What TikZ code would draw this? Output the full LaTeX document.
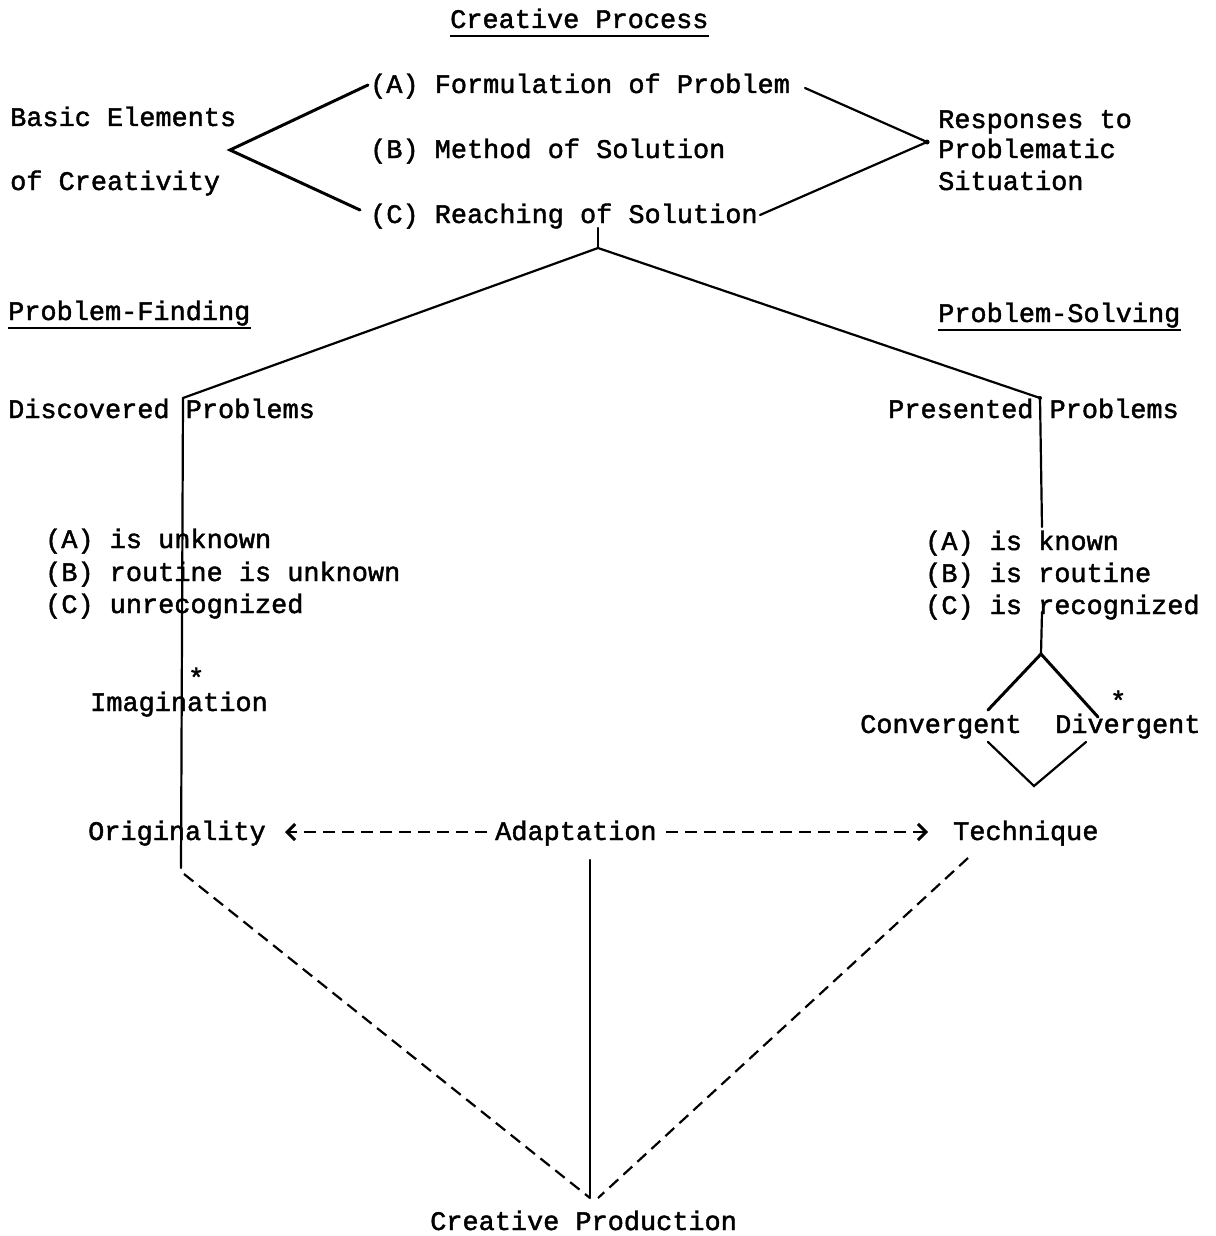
\documentclass[tikz,border=0pt]{standalone}
\usepackage{fontspec}
\newfontfamily\tw{Liberation Mono}[FakeBold=1.6]
\usetikzlibrary{arrows.meta}
\begin{document}
\begin{tikzpicture}[x=1pt,y=-1pt,
  lbl/.style={inner sep=0pt,anchor=base west,font=\tw\fontsize{26.9}{30}\selectfont},
  ln/.style={line width=2.2pt,line cap=round},
  thk/.style={line width=3pt,line cap=round},
  dsh/.style={line width=2.2pt,dash pattern=on 12pt off 7pt},
  ul/.style={line width=1.6pt},
  tip/.style={-{Straight Barb[length=8pt,width=16pt,line width=3pt]}}]
\useasboundingbox[fill=white] (0,0) rectangle (1215,1236);
% texts
\node[lbl] (cp) at (450,28) {Creative Process};
\node[lbl] (fa) at (370,93) {(A) Formulation of Problem};
\node[lbl] (fb) at (370,158) {(B) Method of Solution};
\node[lbl] (fc) at (370,223) {(C) Reaching of Solution};
\node[lbl] (be1) at (10,126) {Basic Elements};
\node[lbl] (be2) at (10,190) {of Creativity};
\node[lbl] (rs1) at (938,128) {Responses to};
\node[lbl] (rs2) at (938,158) {Problematic};
\node[lbl] (rs3) at (938,190) {Situation};
\node[lbl] (pf) at (8,320) {Problem-Finding};
\node[lbl] (ps) at (938,322) {Problem-Solving};
\node[lbl] (dp) at (8,418) {Discovered Problems};
\node[lbl] (pp) at (888,418) {Presented Problems};
\node[lbl] (la) at (45,548) {(A) is unknown};
\node[lbl] (lb) at (45,581) {(B) routine is unknown};
\node[lbl] (lc) at (45,613) {(C) unrecognized};
\node[lbl] (ra) at (925,550) {(A) is known};
\node[lbl] (rb) at (925,582) {(B) is routine};
\node[lbl] (rc) at (925,614) {(C) is recognized};
\node[lbl] (im) at (90,711) {Imagination};
\node[lbl] (ims) at (188,687) {*};
\node[lbl] (cv) at (860,733) {Convergent};
\node[lbl] (dv) at (1055,733) {Divergent};
\node[lbl] (dvs) at (1110,710) {*};
\node[lbl] (or) at (88,840) {Originality};
\node[lbl] (ad) at (495,840) {Adaptation};
\node[lbl] (te) at (953,840) {Technique};
\node[lbl] (cpr) at (430,1230) {Creative Production};
% underlines
\draw[ul] ([yshift=-8pt]cp.base west) -- ([yshift=-8pt]cp.base east);
\draw[ul] ([yshift=-8pt]pf.base west) -- ([yshift=-8pt]pf.base east);
\draw[ul] ([yshift=-8pt]ps.base west) -- ([yshift=-8pt]ps.base east);
% junction coordinates
\coordinate (lj) at (230,150);
\coordinate (laE) at (368,85);
\coordinate (lcE) at (360,210);
\coordinate (rj) at (927,142);
\coordinate (raE) at (805,88);
\coordinate (rcE) at (760,215);
\coordinate (c0) at (598,228);
\coordinate (c1) at (598,248);
\coordinate (dj) at (183,398);
\coordinate (dbot) at (181,868);
\coordinate (pj) at (1040,398);
\coordinate (pbot) at (1042,527);
\coordinate (rct) at (1042,612);
\coordinate (dmT) at (1041,654);
\coordinate (dmL) at (988,710);
\coordinate (dmR) at (1098,717);
\coordinate (dmL2) at (988,742);
\coordinate (dmR2) at (1086,742);
\coordinate (dmB) at (1034,786);
\coordinate (arL) at (285,832);
\coordinate (arLs) at (487,832);
\coordinate (arRs) at (666,832);
\coordinate (arR) at (928,832);
\coordinate (adb) at (590,860);
\coordinate (teb) at (968,858);
\coordinate (dl) at (184,874);
\coordinate (bot) at (590,1198);
% connectors
\draw[thk] (laE) -- (lj) -- (lcE);
\draw[ln] (raE) -- (rj) -- (rcE);
\fill (rj) circle (2.5pt);
\draw[ln] (c0) -- (c1);
\draw[ln] (dj) -- (c1) -- (pj);
\draw[ln] (dj) -- (dbot);
\draw[ln] (pj) -- (pbot);
\fill (pj) circle (2pt);
\draw[ln] (rct) -- (dmT);
\draw[thk] (dmL) -- (dmT) -- (dmR);
\draw[ln] (dmL2) -- (dmB) -- (dmR2);
\draw[dsh,tip] (arLs) -- (arL);
\draw[dsh,tip] (arRs) -- (arR);
\draw[ln] (adb) -- (bot);
\draw[dsh] (dl) -- (bot);
\draw[dsh] (teb) -- ([xshift=8pt]bot);
\end{tikzpicture}
\end{document}
